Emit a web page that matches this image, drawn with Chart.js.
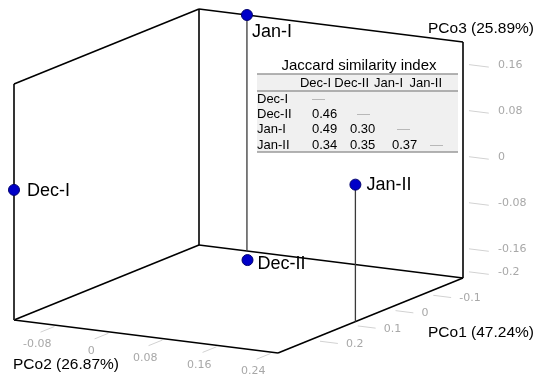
<!DOCTYPE html>
<html>
<head>
<meta charset="utf-8">
<script src="https://cdn.jsdelivr.net/npm/chart.js@4"></script>
<style>
  body { margin: 0; background: #fff; }
  canvas { display: block; }
</style>
</head>
<body>
<canvas id="chart" width="550" height="382"></canvas>
<script>
// sample scores
const samples = ['Dec-I', 'Dec-II', 'Jan-I', 'Jan-II'];
const pco1 = [0.285, -0.16, -0.205, 0.08];
const pco2 = [-0.144, -0.047, -0.073, 0.247];
const pco3 = [0.014, -0.212, 0.198, 0.026];

const pco1Ticks = [-0.1, 0, 0.1, 0.2];
const pco2Ticks = [-0.08, 0, 0.08, 0.16, 0.24];
const pco3Ticks = [0.16, 0.08, 0, -0.08, -0.16, -0.2];
const axisTitles = ['PCo1 (47.24%)', 'PCo2 (26.87%)', 'PCo3 (25.89%)'];

const jaccardTitle = 'Jaccard similarity index';
const jaccard = [[], [0.46], [0.49, 0.30], [0.34, 0.35, 0.37]];

// box ranges follow the data
const lo1 = Math.min(...pco1), hi1 = Math.max(...pco1);
const lo2 = Math.min(...pco2), hi2 = Math.max(...pco2);
const lo3 = Math.min(...pco3), hi3 = Math.max(...pco3);

// projection of the box: back-bottom corner and the three edge vectors
const origin = [199, 245];
const edge1 = [-185, 75];
const edge2 = [264, 33];
const edge3 = [0, -236];

function proj(a, b, c) {
  const s1 = (a - lo1) / (hi1 - lo1);
  const s2 = (b - lo2) / (hi2 - lo2);
  const s3 = (c - lo3) / (hi3 - lo3);
  return {
    x: origin[0] + s1 * edge1[0] + s2 * edge2[0] + s3 * edge3[0],
    y: origin[1] + s1 * edge1[1] + s2 * edge2[1] + s3 * edge3[1],
  };
}

const unit = (v) => { const l = Math.hypot(v[0], v[1]); return [v[0] / l, v[1] / l]; };
const dir1 = unit(edge1);
const dir2 = unit(edge2);

// where each sample name goes, relative to its point
const labelOffsets = [[13, 1], [10, 4], [5, 17], [11, 0]];

const points = samples.map((s, i) => proj(pco1[i], pco2[i], pco3[i]));

const boxPlugin = {
  id: 'box3d',
  beforeDatasetsDraw(chart) {
    const { ctx, scales: { x, y } } = chart;
    const P = (p) => [x.getPixelForValue(p.x), y.getPixelForValue(p.y)];
    const line = (a, b) => {
      const pa = P(a), pb = P(b);
      ctx.beginPath();
      ctx.moveTo(pa[0], pa[1]);
      ctx.lineTo(pb[0], pb[1]);
      ctx.stroke();
    };
    ctx.save();

    // ticks
    ctx.strokeStyle = '#d2d2d2';
    ctx.lineWidth = 1;
    ctx.fillStyle = '#a8a8a8';
    ctx.font = '11px "DejaVu Sans"';
    ctx.textBaseline = 'middle';
    pco3Ticks.forEach((t) => {
      const [px, py] = P(proj(lo1, hi2, t));
      ctx.beginPath();
      ctx.moveTo(px + dir2[0] * 6, py + dir2[1] * 6);
      ctx.lineTo(px + dir2[0] * 26, py + dir2[1] * 26);
      ctx.stroke();
      ctx.textAlign = 'left';
      ctx.fillText(String(t), px + 35, py + 1);
    });
    pco1Ticks.forEach((t) => {
      const [px, py] = P(proj(t, hi2, lo3));
      ctx.beginPath();
      ctx.moveTo(px + dir2[0] * 10, py + dir2[1] * 10);
      ctx.lineTo(px + dir2[0] * 28, py + dir2[1] * 28);
      ctx.stroke();
      ctx.textAlign = 'left';
      ctx.fillText(String(t), px + 36, py + 4);
    });
    pco2Ticks.forEach((t) => {
      const [px, py] = P(proj(hi1, t, lo3));
      ctx.beginPath();
      ctx.moveTo(px + dir1[0] * 3, py + dir1[1] * 3);
      ctx.lineTo(px + dir1[0] * 18, py + dir1[1] * 18);
      ctx.stroke();
      ctx.textAlign = 'center';
      ctx.fillText(String(t), px - 20, py + 19);
    });

    // box edges
    ctx.strokeStyle = '#000';
    ctx.lineWidth = 1.6;
    line(proj(lo1, lo2, lo3), proj(hi1, lo2, lo3));
    line(proj(lo1, lo2, lo3), proj(lo1, hi2, lo3));
    line(proj(hi1, lo2, lo3), proj(hi1, hi2, lo3));
    line(proj(lo1, hi2, lo3), proj(hi1, hi2, lo3));
    line(proj(hi1, lo2, lo3), proj(hi1, lo2, hi3));
    line(proj(lo1, lo2, lo3), proj(lo1, lo2, hi3));
    line(proj(lo1, hi2, lo3), proj(lo1, hi2, hi3));
    line(proj(hi1, lo2, hi3), proj(lo1, lo2, hi3));
    line(proj(lo1, lo2, hi3), proj(lo1, hi2, hi3));

    // drop lines to the floor
    ctx.strokeStyle = '#3a3a3a';
    ctx.lineWidth = 1.3;
    samples.forEach((s, i) => {
      line(proj(pco1[i], pco2[i], pco3[i]), proj(pco1[i], pco2[i], lo3));
    });

    // axis titles
    ctx.fillStyle = '#000';
    ctx.font = '15.5px "Liberation Sans", Arial, sans-serif';
    ctx.textAlign = 'left';
    let c = P(proj(lo1, hi2, hi3));
    ctx.fillText(axisTitles[2], c[0] - 35, c[1] - 13);
    c = P(proj(lo1, hi2, lo3));
    ctx.fillText(axisTitles[0], c[0] - 35, c[1] + 55);
    c = P(proj(hi1, lo2, lo3));
    ctx.fillText(axisTitles[1], c[0] - 1, c[1] + 45);
    ctx.restore();
  },
  afterDatasetsDraw(chart) {
    const { ctx, scales: { x, y } } = chart;
    ctx.save();
    ctx.fillStyle = '#000';
    ctx.font = '18px "Liberation Sans", Arial, sans-serif';
    ctx.textAlign = 'left';
    ctx.textBaseline = 'middle';
    points.forEach((p, i) => {
      ctx.fillText(samples[i], x.getPixelForValue(p.x) + labelOffsets[i][0],
        y.getPixelForValue(p.y) + labelOffsets[i][1]);
    });

    // similarity table
    const left = 257, right = 458;
    ctx.fillStyle = '#f0f0f0';
    ctx.fillRect(left, 74, right - left, 78);
    ctx.strokeStyle = '#9a9a9a';
    ctx.lineWidth = 1.5;
    [74, 91, 152].forEach((ly) => {
      ctx.beginPath();
      ctx.moveTo(left, ly);
      ctx.lineTo(right, ly);
      ctx.stroke();
    });
    ctx.fillStyle = '#000';
    ctx.font = '15px "Liberation Sans", Arial, sans-serif';
    ctx.textAlign = 'center';
    ctx.fillText(jaccardTitle, 359, 66);

    ctx.font = '13px "Liberation Sans", Arial, sans-serif';
    ctx.textAlign = 'right';
    const headRight = [331, 369, 403, 442];
    samples.forEach((s, j) => ctx.fillText(s, headRight[j], 83));
    ctx.textAlign = 'left';
    const valX = [312, 350, 392, 430];
    const dashX = [312, 357, 397, 430];
    samples.forEach((s, r) => {
      const ry = 99 + r * 15.4;
      ctx.fillStyle = '#000';
      ctx.fillText(s, left, ry);
      jaccard[r].forEach((v, j) => ctx.fillText(v.toFixed(2), valX[j], ry));
      ctx.fillStyle = '#b0b0b0';
      ctx.fillText('\u2014', dashX[r], ry);
    });
    ctx.restore();
  },
};

new Chart(document.getElementById('chart'), {
  type: 'scatter',
  data: {
    datasets: [{
      label: 'samples',
      data: points,
      pointRadius: 5.5,
      pointHoverRadius: 5.5,
      backgroundColor: '#0000c8',
      borderColor: '#00006e',
      borderWidth: 1,
    }],
  },
  options: {
    responsive: false,
    animation: false,
    devicePixelRatio: 1,
    layout: { padding: 0, autoPadding: false },
    plugins: { legend: { display: false }, tooltip: { enabled: false } },
    scales: {
      x: { type: 'linear', min: 0, max: 550, display: false },
      y: { type: 'linear', min: 0, max: 382, reverse: true, display: false },
    },
  },
  plugins: [boxPlugin],
});
</script>
</body>
</html>
